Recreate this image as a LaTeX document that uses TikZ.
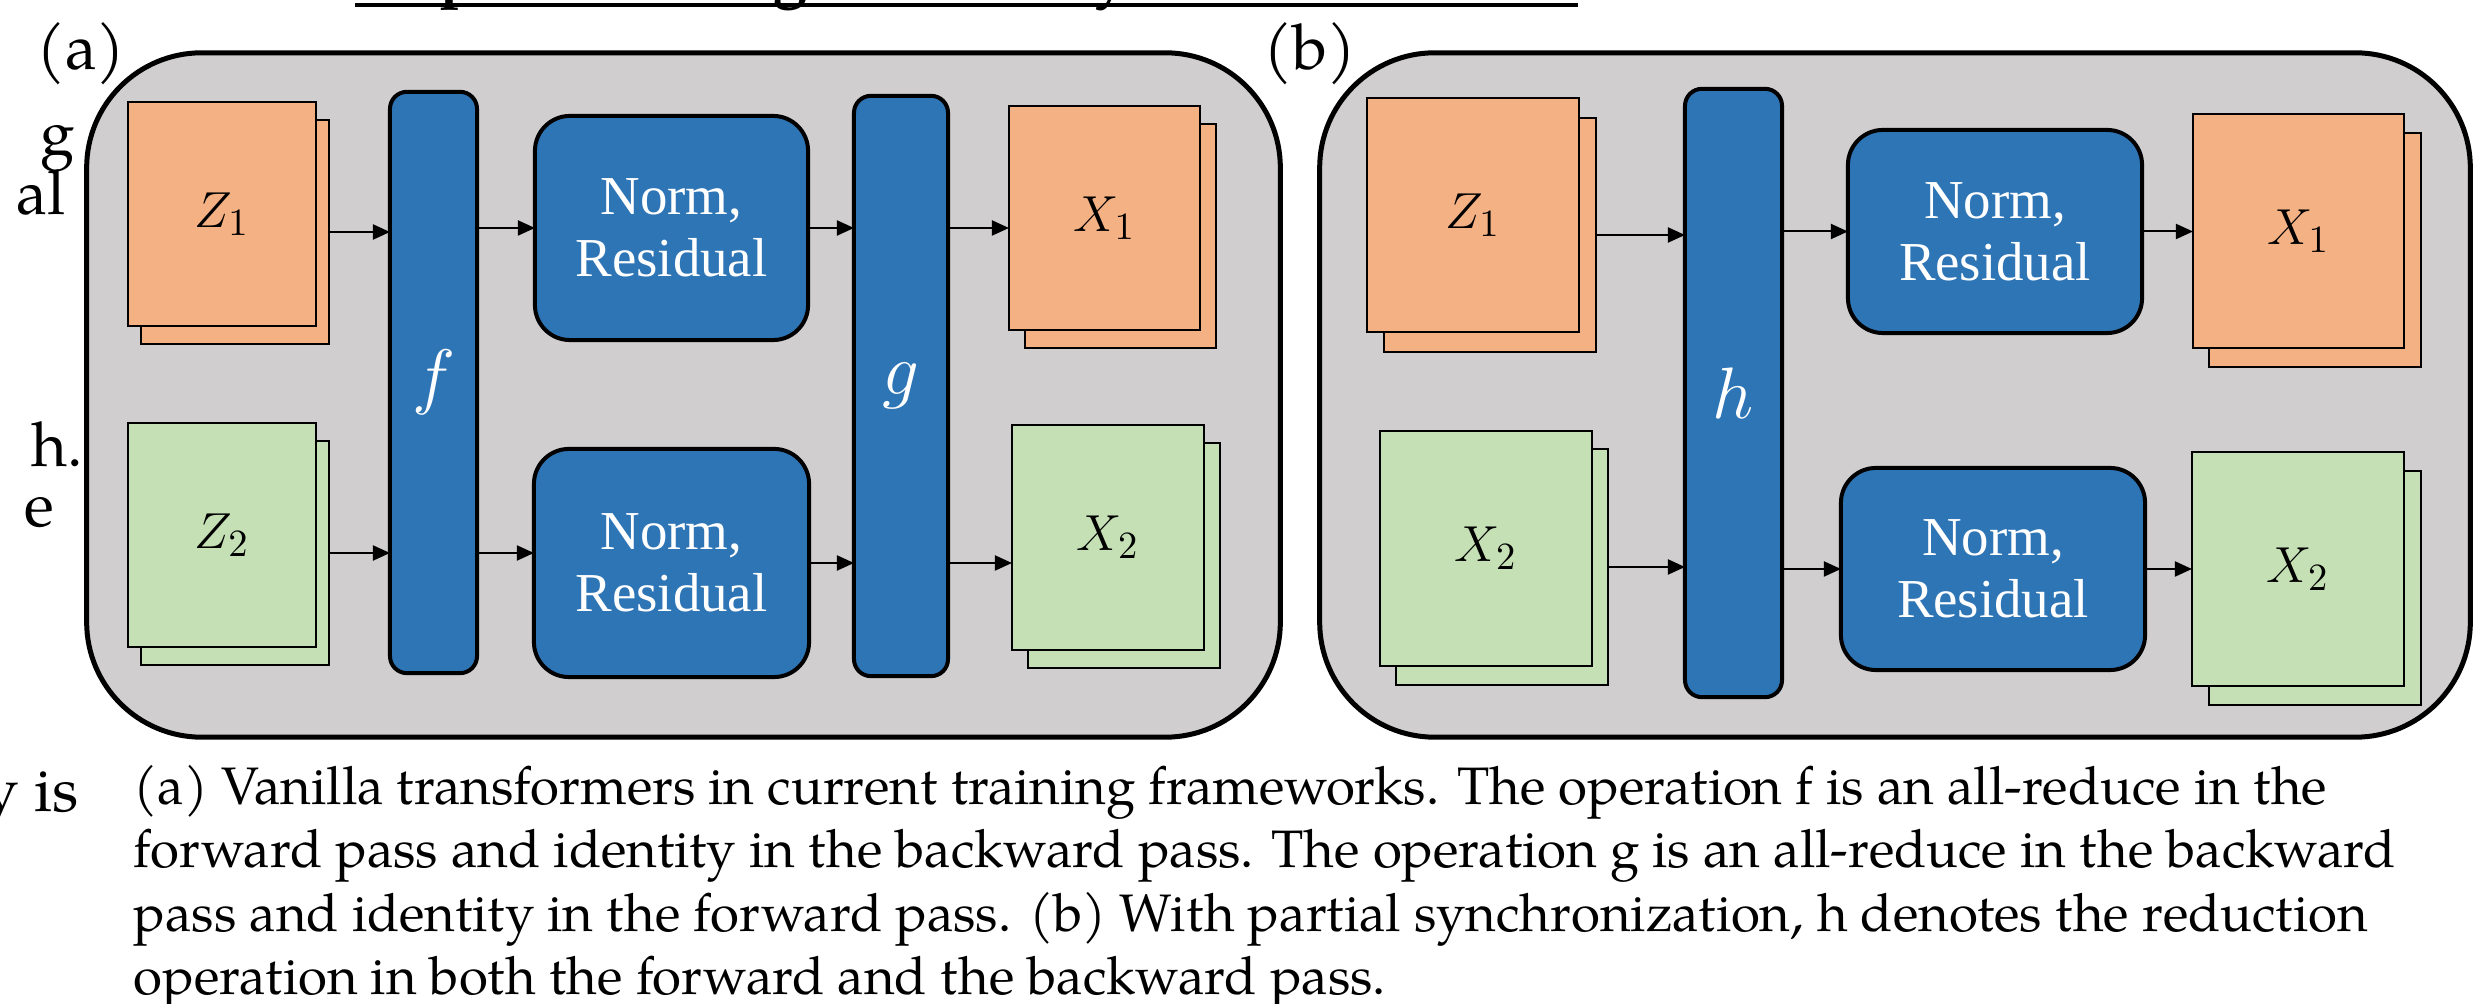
\documentclass[tikz,border=0pt]{standalone}
\usepackage{fontspec}
\usetikzlibrary{arrows.meta}
\newfontfamily\normfont{Liberation Serif}
\newfontfamily\pala{TeX Gyre Pagella}
\definecolor{panelgray}{HTML}{D0CECE}
\definecolor{barblue}{HTML}{2E75B6}
\definecolor{sheetorange}{HTML}{F4B183}
\definecolor{sheetgreen}{HTML}{C5E0B4}
\begin{document}
\begin{tikzpicture}[x=0.01cm,y=-0.01cm,
  panel/.style={draw=black, line width=0.05cm, fill=panelgray, rounded corners=1.15cm, inner sep=0pt, outer sep=0pt},
  bar/.style={draw=black, line width=0.04cm, fill=barblue, rounded corners=0.17cm, inner sep=0pt, outer sep=0pt, text=white, font=\fontsize{22}{26}\selectfont},
  normbox/.style={draw=black, line width=0.04cm, fill=barblue, rounded corners=0.35cm, inner sep=0pt, outer sep=0pt, text=white, align=center, font=\normfont\fontsize{15.6}{17.6}\selectfont},
  sheet/.style={draw=black, line width=0.02cm, inner sep=0pt, outer sep=0pt, font=\fontsize{15}{18}\selectfont},
  sheetO/.style={sheet, fill=sheetorange},
  sheetG/.style={sheet, fill=sheetgreen},
  arr/.style={draw=black, line width=0.02cm, -{Triangle[length=0.17cm,width=0.15cm]}},
  bodytext/.style={inner sep=0pt, font=\pala\fontsize{17.6}{20}\selectfont},
  captext/.style={inner sep=0pt, anchor=base west, font=\pala\fontsize{15}{18}\selectfont},
]
\useasboundingbox (0,0) rectangle (2475,1004);
\clip (0,0) rectangle (2475,1004);

% fragments of surrounding page
\draw[line width=0.035cm] (355,5) -- (1578,5);
\node[bodytext, anchor=base, font=\pala\bfseries\fontsize{17.6}{20}\selectfont] (tp) at (458,-5) {p};
\node[bodytext, anchor=base, font=\pala\bfseries\fontsize{17.6}{20}\selectfont] (tg) at (791,-5) {g};
\node[bodytext, anchor=base, font=\pala\bfseries\fontsize{17.6}{20}\selectfont] (ty) at (1112,-5) {y};
\node[bodytext, anchor=base east] (f1) at (76,155) {g};
\node[bodytext, anchor=base east] (f2) at (66,215) {al};
\node[bodytext, anchor=base east] (f3) at (84,467) {h.};
\node[bodytext, anchor=base east] (f4) at (55,527) {e};
\node[bodytext, anchor=base east] (f5) at (79,812) {y is};

% panels
\node[panel, minimum width=11.93cm, minimum height=6.84cm] (pa) at (683.5,395) {};
\node[panel, minimum width=11.50cm, minimum height=6.84cm] (pb) at (1895,395) {};
\node[bodytext, anchor=base, font=\pala\fontsize{18}{20}\selectfont] (la) at (81,70) {(a)};
\node[bodytext, anchor=base, font=\pala\fontsize{18}{20}\selectfont] (lb) at (1310,70) {(b)};

% ---- panel (a)
\node[sheetO, minimum width=1.88cm, minimum height=2.24cm] (Z1ab) at (235,232) {};
\node[sheetO, minimum width=1.88cm, minimum height=2.24cm] (Z1af) at (222,214) {$Z_1$};
\node[sheetG, minimum width=1.88cm, minimum height=2.24cm] (Z2ab) at (235,553) {};
\node[sheetG, minimum width=1.88cm, minimum height=2.24cm] (Z2af) at (222,535) {$Z_2$};
\node[bar, minimum width=0.87cm, minimum height=5.81cm] (fa) at (433.5,382.5) {$f$};
\node[normbox, minimum width=2.73cm, minimum height=2.24cm] (NA1) at (671.5,228) {Norm,\\Residual};
\node[normbox, minimum width=2.75cm, minimum height=2.28cm] (NA2) at (671.5,563) {Norm,\\Residual};
\node[bar, minimum width=0.94cm, minimum height=5.80cm] (ga) at (901,386) {$g$};
\node[sheetO, minimum width=1.91cm, minimum height=2.24cm] (X1ab) at (1120.5,236) {};
\node[sheetO, minimum width=1.91cm, minimum height=2.24cm] (X1af) at (1104.5,218) {$X_1$};
\node[sheetG, minimum width=1.92cm, minimum height=2.25cm] (X2ab) at (1124,555.5) {};
\node[sheetG, minimum width=1.92cm, minimum height=2.25cm] (X2af) at (1108,537.5) {$X_2$};

\draw[arr] (Z1ab.east) -- (Z1ab.east -| fa.west);
\draw[arr] (NA1.west -| fa.east) -- (NA1.west);
\draw[arr] (NA1.east) -- (NA1.east -| ga.west);
\draw[arr] (NA1.east -| ga.east) -- (NA1.east -| X1af.west);
\draw[arr] (Z2ab.east) -- (Z2ab.east -| fa.west);
\draw[arr] (Z2ab.east -| fa.east) -- (Z2ab.east -| NA2.west);
\draw[arr] (NA2.east) -- (NA2.east -| ga.west);
\draw[arr] (NA2.east -| ga.east) -- (NA2.east -| X2af.west);

% ---- panel (b)
\node[sheetO, minimum width=2.12cm, minimum height=2.34cm] (Z1bb) at (1490,235) {};
\node[sheetO, minimum width=2.12cm, minimum height=2.34cm] (Z1bf) at (1473,215) {$Z_1$};
\node[sheetG, minimum width=2.12cm, minimum height=2.35cm] (X2lb) at (1502,567) {};
\node[sheetG, minimum width=2.12cm, minimum height=2.35cm] (X2lf) at (1486,548.5) {$X_2$};
\node[bar, minimum width=0.97cm, minimum height=6.08cm] (hb) at (1733.5,393) {$h$};
\node[normbox, minimum width=2.94cm, minimum height=2.03cm] (NB1) at (1995,231.5) {Norm,\\Residual};
\node[normbox, minimum width=3.04cm, minimum height=2.02cm] (NB2) at (1993,569) {Norm,\\Residual};
\node[sheetO, minimum width=2.11cm, minimum height=2.34cm] (X1bb) at (2315,250) {};
\node[sheetO, minimum width=2.11cm, minimum height=2.34cm] (X1bf) at (2298.5,231) {$X_1$};
\node[sheetG, minimum width=2.12cm, minimum height=2.34cm] (X2rb) at (2315,588) {};
\node[sheetG, minimum width=2.12cm, minimum height=2.34cm] (X2rf) at (2298,569) {$X_2$};

\draw[arr] (Z1bb.east) -- (Z1bb.east -| hb.west);
\draw[arr] (NB1.west -| hb.east) -- (NB1.west);
\draw[arr] (NB1.east) -- (NB1.east -| X1bf.west);
\draw[arr] (X2lb.east) -- (X2lb.east -| hb.west);
\draw[arr] (NB2.west -| hb.east) -- (NB2.west);
\draw[arr] (NB2.east) -- (NB2.east -| X2rf.west);

% caption
\node[captext] (c1) at (133,805) {(a) Vanilla transformers in current training frameworks. The operation f is an all-reduce in the};
\node[captext] (c2) at (133,868) {forward pass and identity in the backward pass. The operation g is an all-reduce in the backward};
\node[captext] (c3) at (133,932) {pass and identity in the forward pass. (b) With partial synchronization, h denotes the reduction};
\node[captext] (c4) at (133,995) {operation in both the forward and the backward pass.};
\end{tikzpicture}
\end{document}
